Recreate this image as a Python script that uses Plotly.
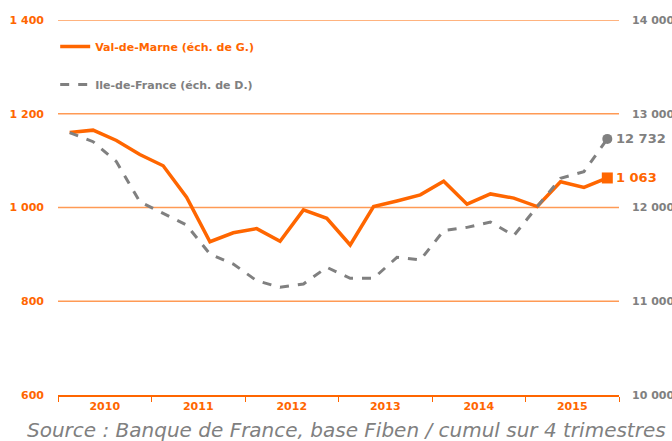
import plotly.graph_objects as go

years = ["2010", "2011", "2012", "2013", "2014", "2015"]
quarters = list(range(24))
val_de_marne = [1160, 1165, 1143, 1113, 1089, 1022, 927, 946, 955, 928, 995, 977,
                920, 1002, 1014, 1027, 1056, 1007, 1029, 1020, 1002, 1055, 1043, 1063]
ile_de_france = [12798, 12702, 12489, 12062, 11938, 11813, 11504, 11397, 11219, 11149, 11184, 11362,
                 11245, 11245, 11468, 11440, 11753, 11788, 11845, 11700, 12009, 12311, 12382, 12732]
left_ticks = [600, 800, 1000, 1200, 1400]
left_labels = ["600", "800", "1 000", "1 200", "1 400"]
right_ticks = [10000, 11000, 12000, 13000, 14000]
right_labels = ["10 000", "11 000", "12 000", "13 000", "14 000"]

ORANGE = "#FF6600"
GREY = "#808080"
GRID = "#FF9A55"
FONT = "DejaVu Sans"

def fmt(v):
    return f"{v:,}".replace(",", " ")

fig = go.Figure()
fig.add_trace(go.Scatter(
    x=quarters, y=val_de_marne, mode="lines",
    name=f"<span style='color:{ORANGE}'>Val-de-Marne (éch. de G.)</span>",
    line=dict(color=ORANGE, width=3.5), legendgroup="a", yaxis="y"))
fig.add_trace(go.Scatter(
    x=quarters, y=ile_de_france, mode="lines",
    name=f"<span style='color:{GREY}'>Ile-de-France (éch. de D.)</span>",
    line=dict(color=GREY, width=3, dash="dash"), legendgroup="b", yaxis="y2"))
# end markers
fig.add_trace(go.Scatter(x=[quarters[-1]], y=[val_de_marne[-1]], mode="markers",
                         marker=dict(symbol="square", color=ORANGE, size=11),
                         showlegend=False, yaxis="y"))
fig.add_trace(go.Scatter(x=[quarters[-1]], y=[ile_de_france[-1]], mode="markers",
                         marker=dict(symbol="circle", color=GREY, size=10),
                         showlegend=False, yaxis="y2"))

# horizontal gridlines (left-axis ticks above the baseline)
for t in left_ticks[1:]:
    fig.add_shape(type="line", xref="paper", x0=0, x1=1, yref="y", y0=t, y1=t,
                  line=dict(color=GRID, width=1.5), layer="below")

fig.add_annotation(x=quarters[-1], y=val_de_marne[-1], xref="x", yref="y",
                   text=f"<b>{fmt(val_de_marne[-1])}</b>", showarrow=False,
                   xanchor="left", xshift=7, font=dict(color=ORANGE, size=13, family=FONT))
fig.add_annotation(x=quarters[-1], y=ile_de_france[-1], xref="x", yref="y2",
                   text=f"<b>{fmt(ile_de_france[-1])}</b>", showarrow=False,
                   xanchor="left", xshift=7, font=dict(color=GREY, size=13, family=FONT))

fig.add_annotation(x=0.5, y=0, xref="paper", yref="paper", yshift=-35, xshift=8,
                   text="<i>Source : Banque de France, base Fiben / cumul sur 4 trimestres</i>",
                   showarrow=False, xanchor="center", yanchor="middle",
                   font=dict(color=GREY, size=20, family=FONT))

fig.update_layout(
    template="none",
    width=672, height=441,
    margin=dict(l=58, r=53, t=20, b=46, autoexpand=False),
    paper_bgcolor="white", plot_bgcolor="white",
    font=dict(family=FONT, size=11),
    showlegend=True,
    legend=dict(x=-0.005, y=0.968, xanchor="left", yanchor="top", bgcolor="rgba(0,0,0,0)",
                traceorder="grouped", tracegroupgap=19, itemwidth=30,
                font=dict(size=11, family=FONT, weight="bold")),
    xaxis=dict(range=[-0.5, 23.5], showgrid=False, zeroline=False, automargin=False,
               tickvals=[1.5 + 4 * i for i in range(len(years))], ticktext=years,
               ticks="", tickfont=dict(color=ORANGE, size=11, family=FONT, weight="bold"),
               showline=True, linecolor=ORANGE, linewidth=1.5,
               minor=dict(tickvals=[-0.5 + 4 * i for i in range(len(years) + 1)],
                          ticks="outside", ticklen=5, tickcolor=ORANGE, tickwidth=1.2,
                          showgrid=False)),
    yaxis=dict(range=[600, 1400], tickvals=left_ticks, ticktext=left_labels, automargin=False,
               showgrid=False, zeroline=False, showline=False,
               ticks="", ticklabelstandoff=13,
               tickfont=dict(color=ORANGE, size=11, family=FONT, weight="bold")),
    yaxis2=dict(range=[10000, 14000], tickvals=right_ticks, ticktext=right_labels, automargin=False,
                overlaying="y", side="right", showgrid=False, zeroline=False, showline=False,
                ticks="", ticklabelstandoff=12,
                tickfont=dict(color=GREY, size=11, family=FONT, weight="bold")),
)

fig.write_html("out.html", config={"displayModeBar": False},
               post_script="document.body.style.margin='0';")
